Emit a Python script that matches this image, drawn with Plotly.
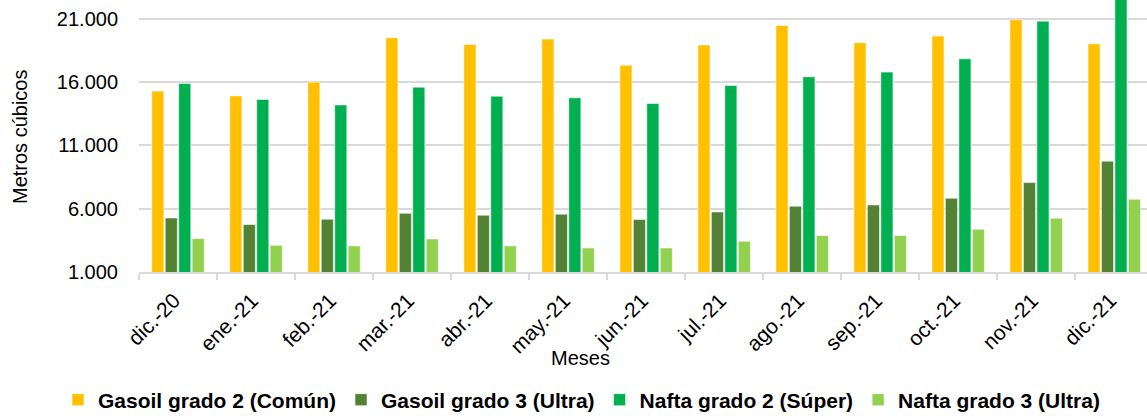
import plotly.graph_objects as go

months = ["dic.-20", "ene.-21", "feb.-21", "mar.-21", "abr.-21", "may.-21", "jun.-21",
          "jul.-21", "ago.-21", "sep.-21", "oct.-21", "nov.-21", "dic.-21"]

gasoil_2 = [15300, 14920, 16010, 19510, 18990, 19410, 17350, 18940, 20490, 19120, 19650, 20940, 19040]
gasoil_3 = [5270, 4750, 5170, 5640, 5490, 5570, 5150, 5750, 6200, 6300, 6830, 8070, 9760]
nafta_2 = [15900, 14640, 14210, 15610, 14900, 14770, 14320, 15750, 16430, 16800, 17850, 20830, 23400]
nafta_3 = [3640, 3110, 3060, 3610, 3060, 2900, 2900, 3430, 3880, 3880, 4380, 5250, 6750]

series_names = ["Gasoil grado 2 (Común)", "Gasoil grado 3 (Ultra)",
                "Nafta grado 2 (Súper)", "Nafta grado 3 (Ultra)"]
series_values = [gasoil_2, gasoil_3, nafta_2, nafta_3]
colors = ["#FFC000", "#548235", "#00B050", "#92D050"]

y_ticks = [1000, 6000, 11000, 16000, 21000]

FONT = "Liberation Sans, Arial, sans-serif"

fig = go.Figure()
for name, vals, col in zip(series_names, series_values, colors):
    fig.add_trace(go.Bar(
        x=months, y=vals, name=name,
        marker=dict(color=col, line=dict(color="rgba(255,255,255,0.55)", width=1)),
    ))

fig.update_layout(
    width=1147, height=416,
    margin=dict(l=139, r=0, t=0, b=144, autoexpand=False),
    paper_bgcolor="white", plot_bgcolor="white",
    barmode="group", bargap=0.31, bargroupgap=0.1,
    separators=",.",
    font=dict(family=FONT, size=20, color="#000000"),
    showlegend=True,
    legend=dict(
        orientation="h", xref="paper", yref="paper",
        x=(58 - 139) / 1008, xanchor="left",
        y=-(400 - 272) / 272, yanchor="middle",
        font=dict(family=FONT, size=21, color="#000000", weight="bold"),
        traceorder="normal", itemclick=False, bgcolor="rgba(0,0,0,0)",
    ),
    xaxis=dict(
        type="category", range=[-0.5, 12.42],
        showline=True, linecolor="#d9d9d9", linewidth=2,
        ticks="outside", tickson="boundaries", ticklen=6, tickcolor="#d9d9d9", tickwidth=2,
        tickangle=-45, tickfont=dict(size=21, color="#000000"),
        ticklabelstandoff=6, ticklabelshift=-4,
        showgrid=False,
    ),
    yaxis=dict(
        range=[1000, 22500], tickvals=y_ticks, tickformat=",d",
        showgrid=True, gridcolor="#d9d9d9", gridwidth=2,
        zeroline=False, showline=False, ticks="",
        tickfont=dict(size=20, color="#000000"),
        ticklabelstandoff=20,
    ),
    annotations=[
        dict(text="Metros cúbicos", xref="paper", yref="paper",
             x=(20 - 139) / 1008, y=(272 - 137) / 272, textangle=-90,
             showarrow=False, xanchor="center", yanchor="middle",
             font=dict(family=FONT, size=20, color="#000000")),
        dict(text="Meses", xref="paper", yref="paper",
             x=(580 - 139) / 1008, y=-(358 - 272) / 272,
             showarrow=False, xanchor="center", yanchor="middle",
             font=dict(family=FONT, size=20, color="#000000")),
    ],
)

fig.write_html("out.html", config={"displayModeBar": False},
               post_script="document.body.style.margin='0';")
